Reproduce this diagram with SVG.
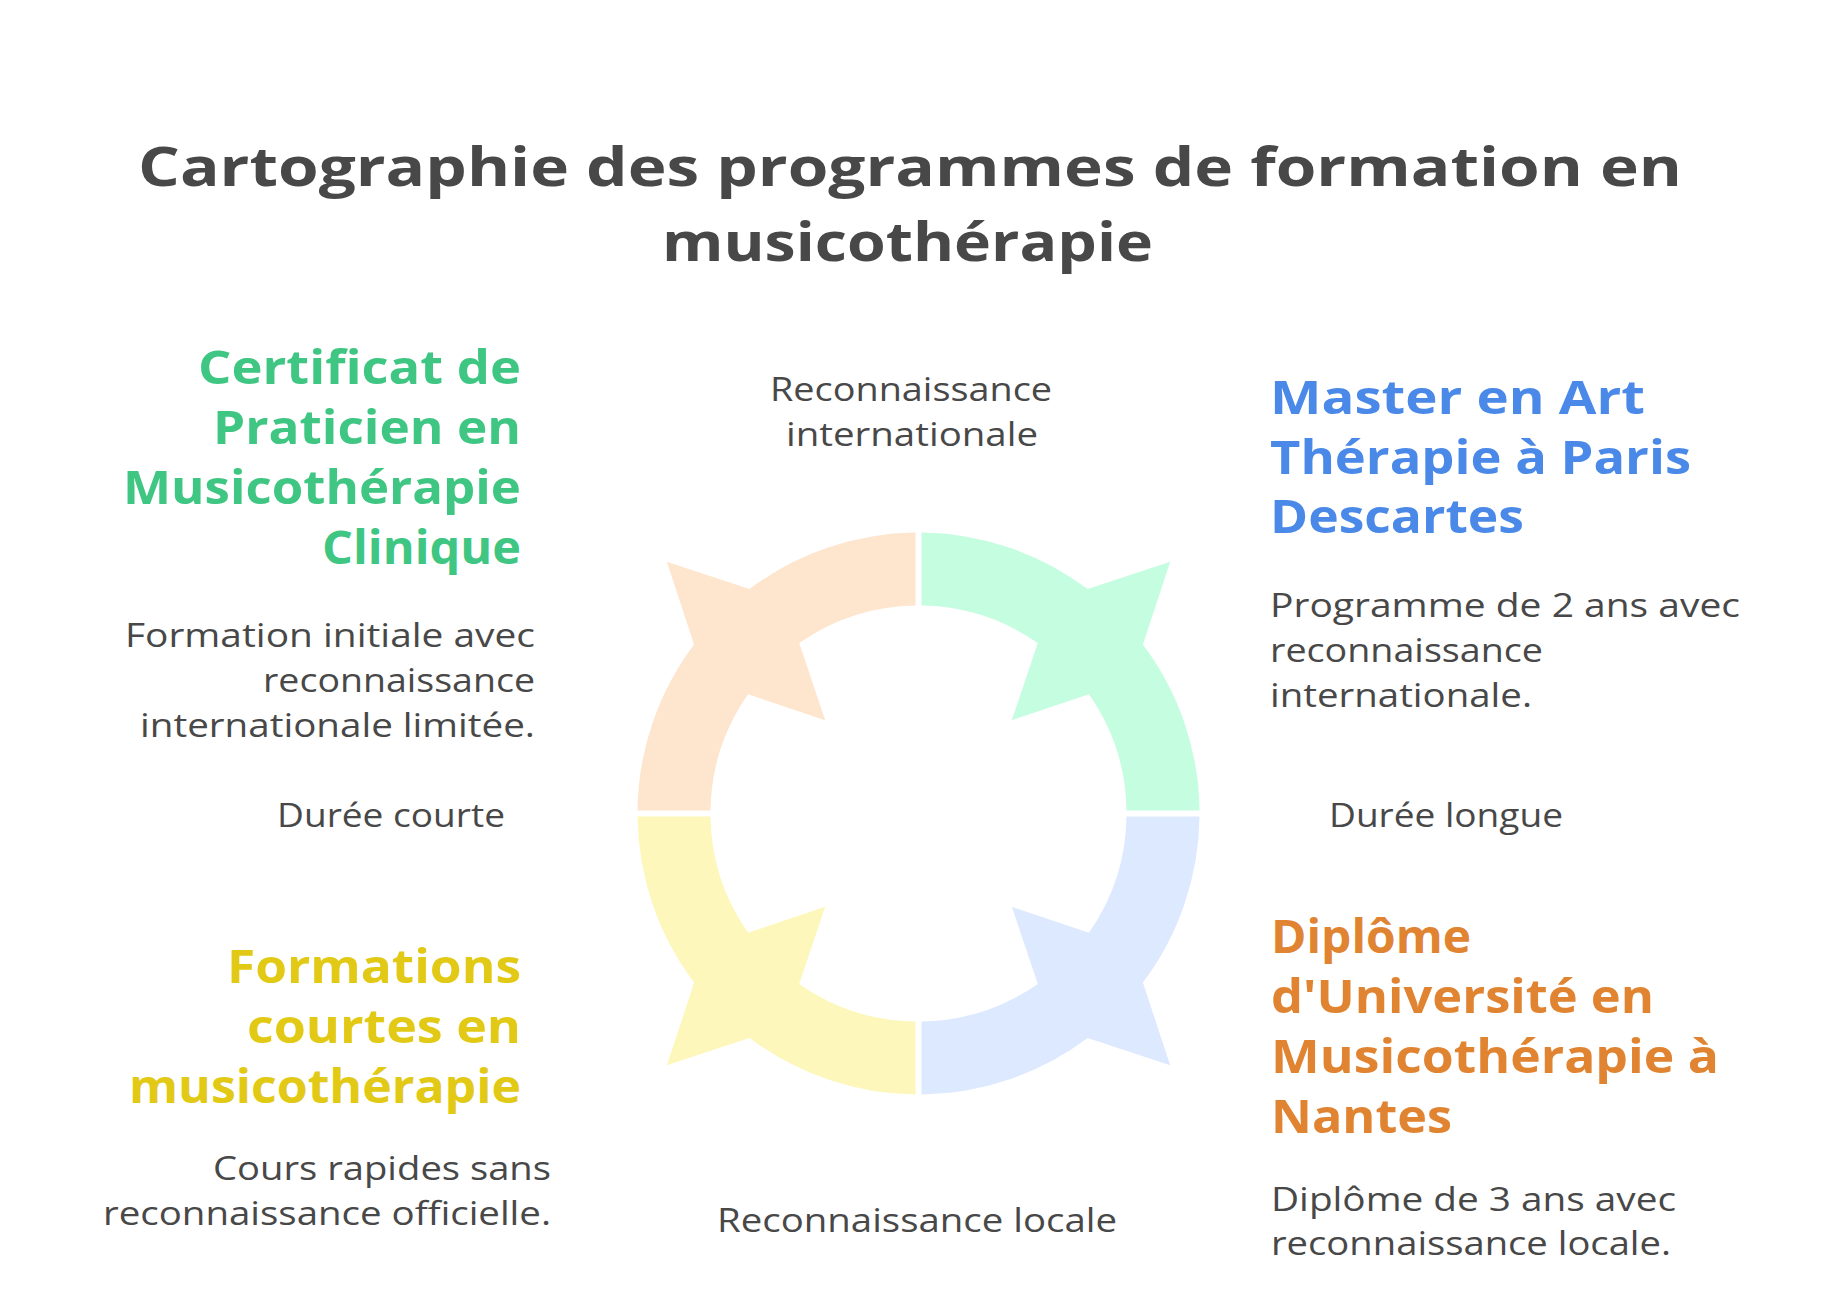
<svg xmlns="http://www.w3.org/2000/svg" width="1836" height="1295" viewBox="0 0 1836 1295">
<style>
text{font-family:"Open Sans","Noto Sans","Liberation Sans",sans-serif;}
.title{font-size:54px;font-weight:700;fill:#484848;}
.h{font-size:46px;font-weight:700;}
.d{font-size:33px;fill:#484848;}
.green{fill:#3EC682;}
.blue{fill:#4A89E8;}
.yellow{fill:#E2C915;}
.orange{fill:#E08432;}
</style>
<defs>
<path id="wedge" d="M -281,-3 A 281 281 0 0 1 -224.4,-169.1 L -251.7,-251.7 L -169.1,-224.4 A 281 281 0 0 1 -3,-281 L -3,-208 A 208 208 0 0 0 -119.3,-170.4 L -93.3,-93.3 L -170.4,-119.3 A 208 208 0 0 0 -208,-3 Z"/>
</defs>
<rect width="1836" height="1295" fill="#ffffff"/>
<g id="title">
<text class="title" x="138" y="186" textLength="1544" lengthAdjust="spacingAndGlyphs">Cartographie des programmes de formation en</text>
<text class="title" x="662" y="261" textLength="491" lengthAdjust="spacingAndGlyphs">musicothérapie</text>
</g>
<g id="connectors">
<use href="#wedge" transform="translate(918.5,813.5)" fill="#FEE5CE"/>
<use href="#wedge" transform="translate(918.5,813.5) rotate(90)" fill="#C5FDE1"/>
<use href="#wedge" transform="translate(918.5,813.5) rotate(180)" fill="#DDE9FE"/>
<use href="#wedge" transform="translate(918.5,813.5) rotate(270)" fill="#FEF7BC"/>
</g>
<g id="axis-labels">
<text class="d" x="770" y="401" textLength="282" lengthAdjust="spacingAndGlyphs">Reconnaissance</text>
<text class="d" x="786" y="446" textLength="252" lengthAdjust="spacingAndGlyphs">internationale</text>
<text class="d" x="717" y="1232" textLength="400" lengthAdjust="spacingAndGlyphs">Reconnaissance locale</text>
<text class="d" x="277" y="827" textLength="228" lengthAdjust="spacingAndGlyphs">Durée courte</text>
<text class="d" x="1329" y="827" textLength="234" lengthAdjust="spacingAndGlyphs">Durée longue</text>
</g>
<g id="node-certificat">
<text class="h green" x="198" y="384" textLength="323" lengthAdjust="spacingAndGlyphs">Certificat de</text>
<text class="h green" x="213" y="444" textLength="308" lengthAdjust="spacingAndGlyphs">Praticien en</text>
<text class="h green" x="123" y="504" textLength="398" lengthAdjust="spacingAndGlyphs">Musicothérapie</text>
<text class="h green" x="322" y="564" textLength="199" lengthAdjust="spacingAndGlyphs">Clinique</text>
<text class="d" x="125" y="647" textLength="410" lengthAdjust="spacingAndGlyphs">Formation initiale avec</text>
<text class="d" x="263" y="692" textLength="272" lengthAdjust="spacingAndGlyphs">reconnaissance</text>
<text class="d" x="140" y="737" textLength="395" lengthAdjust="spacingAndGlyphs">internationale limitée.</text>
</g>
<g id="node-master">
<text class="h blue" x="1270" y="414" textLength="375" lengthAdjust="spacingAndGlyphs">Master en Art</text>
<text class="h blue" x="1270" y="474" textLength="421" lengthAdjust="spacingAndGlyphs">Thérapie à Paris</text>
<text class="h blue" x="1270" y="533" textLength="254" lengthAdjust="spacingAndGlyphs">Descartes</text>
<text class="d" x="1270" y="617" textLength="470" lengthAdjust="spacingAndGlyphs">Programme de 2 ans avec</text>
<text class="d" x="1270" y="662" textLength="273" lengthAdjust="spacingAndGlyphs">reconnaissance</text>
<text class="d" x="1270" y="707" textLength="262" lengthAdjust="spacingAndGlyphs">internationale.</text>
</g>
<g id="node-formations">
<text class="h yellow" x="227" y="983" textLength="294" lengthAdjust="spacingAndGlyphs">Formations</text>
<text class="h yellow" x="247" y="1043" textLength="274" lengthAdjust="spacingAndGlyphs">courtes en</text>
<text class="h yellow" x="129" y="1103" textLength="392" lengthAdjust="spacingAndGlyphs">musicothérapie</text>
<text class="d" x="213" y="1180" textLength="338" lengthAdjust="spacingAndGlyphs">Cours rapides sans</text>
<text class="d" x="103" y="1225" textLength="448" lengthAdjust="spacingAndGlyphs">reconnaissance officielle.</text>
</g>
<g id="node-diplome">
<text class="h orange" x="1271" y="953" textLength="200" lengthAdjust="spacingAndGlyphs">Diplôme</text>
<text class="h orange" x="1271" y="1013" textLength="383" lengthAdjust="spacingAndGlyphs">d'Université en</text>
<text class="h orange" x="1271" y="1073" textLength="448" lengthAdjust="spacingAndGlyphs">Musicothérapie à</text>
<text class="h orange" x="1271" y="1133" textLength="181" lengthAdjust="spacingAndGlyphs">Nantes</text>
<text class="d" x="1271" y="1211" textLength="405" lengthAdjust="spacingAndGlyphs">Diplôme de 3 ans avec</text>
<text class="d" x="1271" y="1255" textLength="400" lengthAdjust="spacingAndGlyphs">reconnaissance locale.</text>
</g>
</svg>
